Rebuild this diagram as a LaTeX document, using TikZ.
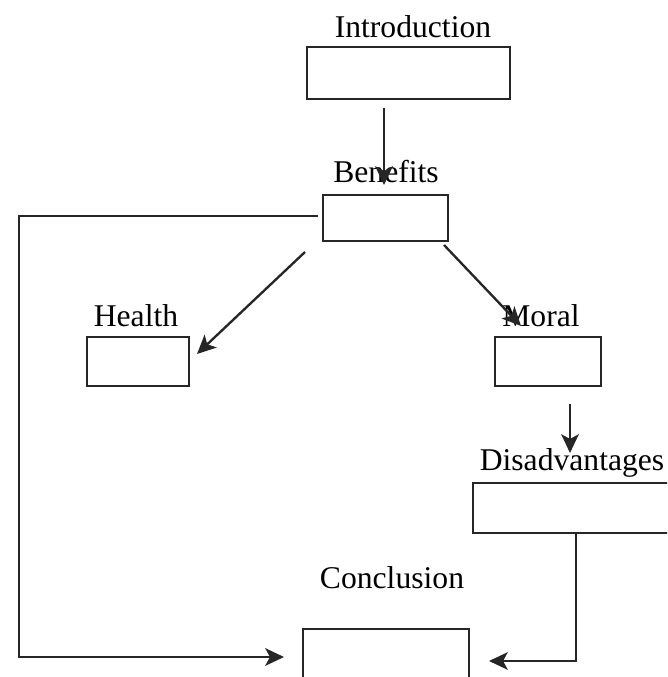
\documentclass[tikz,border=0pt]{standalone}
\usepackage{fontspec}
\setmainfont{Liberation Serif}
\usetikzlibrary{arrows.meta}
\usetikzlibrary{positioning}
\tikzset{
  box/.style={draw=black!85, line width=2pt, inner sep=0pt},
  boxtxt/.style={font=\fontsize{27}{30}\selectfont, inner sep=0pt},
  link/.style={draw=black!85, line width=2pt, -{Stealth[length=16pt, width=15pt, inset=4pt]}}
}

\begin{document}
\begin{tikzpicture}[line cap=butt,line join=miter,x=0.03cm,y=0.03cm]
\useasboundingbox (0,0) rectangle (667,677);
\clip (0,0) rectangle (667,677);
% boxes
\node[box, minimum width=6.09cm, minimum height=1.56cm] (intro) at (408.5,604) {};
\node[box, minimum width=3.75cm, minimum height=1.38cm] (benefits) at (385.5,459) {};
\node[box, minimum width=3.06cm, minimum height=1.47cm] (health) at (138,315.5) {};
\node[box, minimum width=3.18cm, minimum height=1.47cm] (moral) at (548,315.5) {};
\node[box, minimum width=6.51cm, minimum height=1.50cm] (disadv) at (581.5,169) {};
\node[box, minimum width=4.98cm, minimum height=1.80cm] (concl) at (386,18) {};
% labels
\node[boxtxt] (introtxt) at (413,650) {Introduction};
\node[boxtxt] (benefitstxt) at (386,505) {Benefits};
\node[boxtxt] (healthtxt) at (136,361) {Health};
\node[boxtxt] (moraltxt) at (541,361) {Moral};
\node[boxtxt] (disadvtxt) at (572,214) {Disadvantages};
\node[boxtxt] (concltxt) at (392,99) {Conclusion};
% connector ends
\coordinate (i1) at (384,569);
\coordinate (i2) at (384,492);
\coordinate (b1) at (318,461);
\coordinate (b2) at (19,461);
\coordinate (b3) at (19,20);
\coordinate (b4) at (284,20);
\coordinate (h1) at (305,425);
\coordinate (h2) at (197,323);
\coordinate (m1) at (444,432);
\coordinate (m2) at (521,351);
\coordinate (d1) at (570,273);
\coordinate (d2) at (570,224);
\coordinate (c1) at (576,144);
\coordinate (c2) at (576,16);
\coordinate (c3) at (489,16);
% connectors
\draw[link] (i1) -- (i2);
\draw[link] (b1) -- (b2) -- (b3) -- (b4);
\draw[link] (h1) -- (h2);
\draw[link] (m1) -- (m2);
\draw[link] (d1) -- (d2);
\draw[link] (c1) -- (c2) -- (c3);
\end{tikzpicture}
\end{document}
